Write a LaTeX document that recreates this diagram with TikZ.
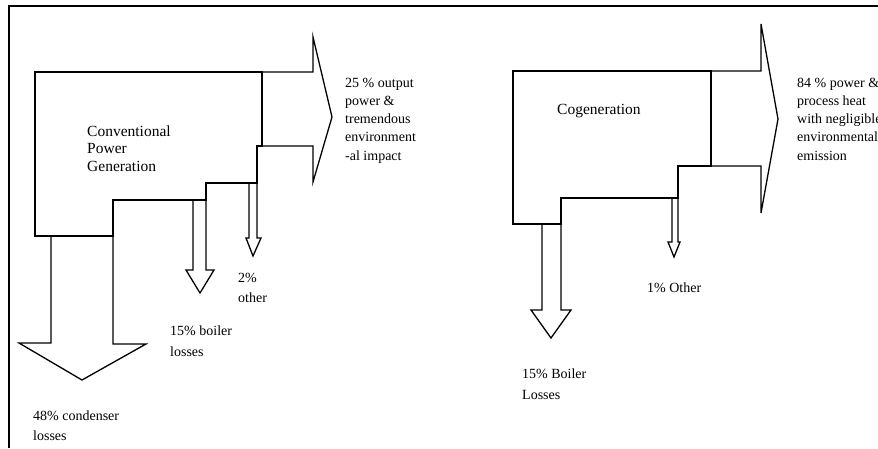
\documentclass[tikz,border=0pt]{standalone}
\usepackage{fontspec}
\setmainfont{Liberation Serif}
\begin{document}
\begin{tikzpicture}[x=1pt,y=-1pt,
  shp/.style={draw=black,line width=1.3pt,line join=miter},
  lbl/.style={inner sep=0pt,anchor=base west,align=left,font=\fontsize{14}{19}\selectfont},
  ttl/.style={inner sep=0pt,anchor=base west,align=left,font=\fontsize{15.5}{17.5}\selectfont}]
\useasboundingbox (0,0) rectangle (878,448);
\clip (0,0) rectangle (878,448);
\fill[white] (0,0) rectangle (878,448);
% frame
\draw[line width=2.4pt] (9,448) -- (9,6) -- (878,6);
% ---------- left diagram ----------
\draw[shp] (35,72) -- (262,72) -- (262,146) -- (257,146) -- (257,183) -- (206,183)
  -- (206,200) -- (113,200) -- (113,236) -- (35,236) -- cycle;
\draw[shp] (262,72) -- (313,72) -- (313,37) -- (332,117) -- (313,182) -- (313,146) -- (257,146);
\draw[shp] (249,183) -- (249,238) -- (246,238) -- (253,256) -- (261,238) -- (257,238) -- (257,183);
\draw[shp] (193,200) -- (193,270) -- (186,270) -- (200,293) -- (214,270) -- (206,270) -- (206,200);
\draw[shp] (51,236) -- (51,343) -- (19,343) -- (82,380) -- (146,344) -- (113,344) -- (113,236);
% ---------- right diagram ----------
\draw[shp] (513,71) -- (711,71) -- (711,166) -- (678,166) -- (678,198) -- (561,198)
  -- (561,224) -- (513,224) -- cycle;
\draw[shp] (711,71) -- (761,71) -- (761,24) -- (778,119) -- (761,213) -- (761,166) -- (678,166);
\draw[shp] (672,198) -- (672,242) -- (668,242) -- (674,257) -- (680,242) -- (678,242) -- (678,198);
\draw[shp] (542,224) -- (542,310) -- (531,310) -- (551,338) -- (571,310) -- (561,310) -- (561,224);
% ---------- texts (base anchor = last line) ----------
\node[ttl] (conv) at (87,171) {Conventional\\Power\\Generation};
\node[lbl,font=\fontsize{14}{18.3}\selectfont] (out1) at (345,160.2) {25 \% output\\power \&\\tremendous\\environment\\-al impact};
\node[lbl,font=\fontsize{14}{20}\selectfont] (oth1) at (238,302) {2\%\\other};
\node[lbl,font=\fontsize{14}{21}\selectfont] (boil1) at (170,356) {15\% boiler\\losses};
\node[lbl,font=\fontsize{14}{20}\selectfont] (cond1) at (33,440) {48\% condenser\\losses};
\node[ttl] (cogen) at (557,114) {Cogeneration};
\node[lbl,font=\fontsize{14}{18.3}\selectfont] (out2) at (797,160.2) {84 \% power \&\\process heat\\with negligible\\environmental\\emission};
\node[lbl] (oth2) at (647,292) {1\% Other};
\node[lbl,font=\fontsize{14}{21}\selectfont] (boil2) at (522,399) {15\% Boiler\\Losses};
\end{tikzpicture}
\end{document}
